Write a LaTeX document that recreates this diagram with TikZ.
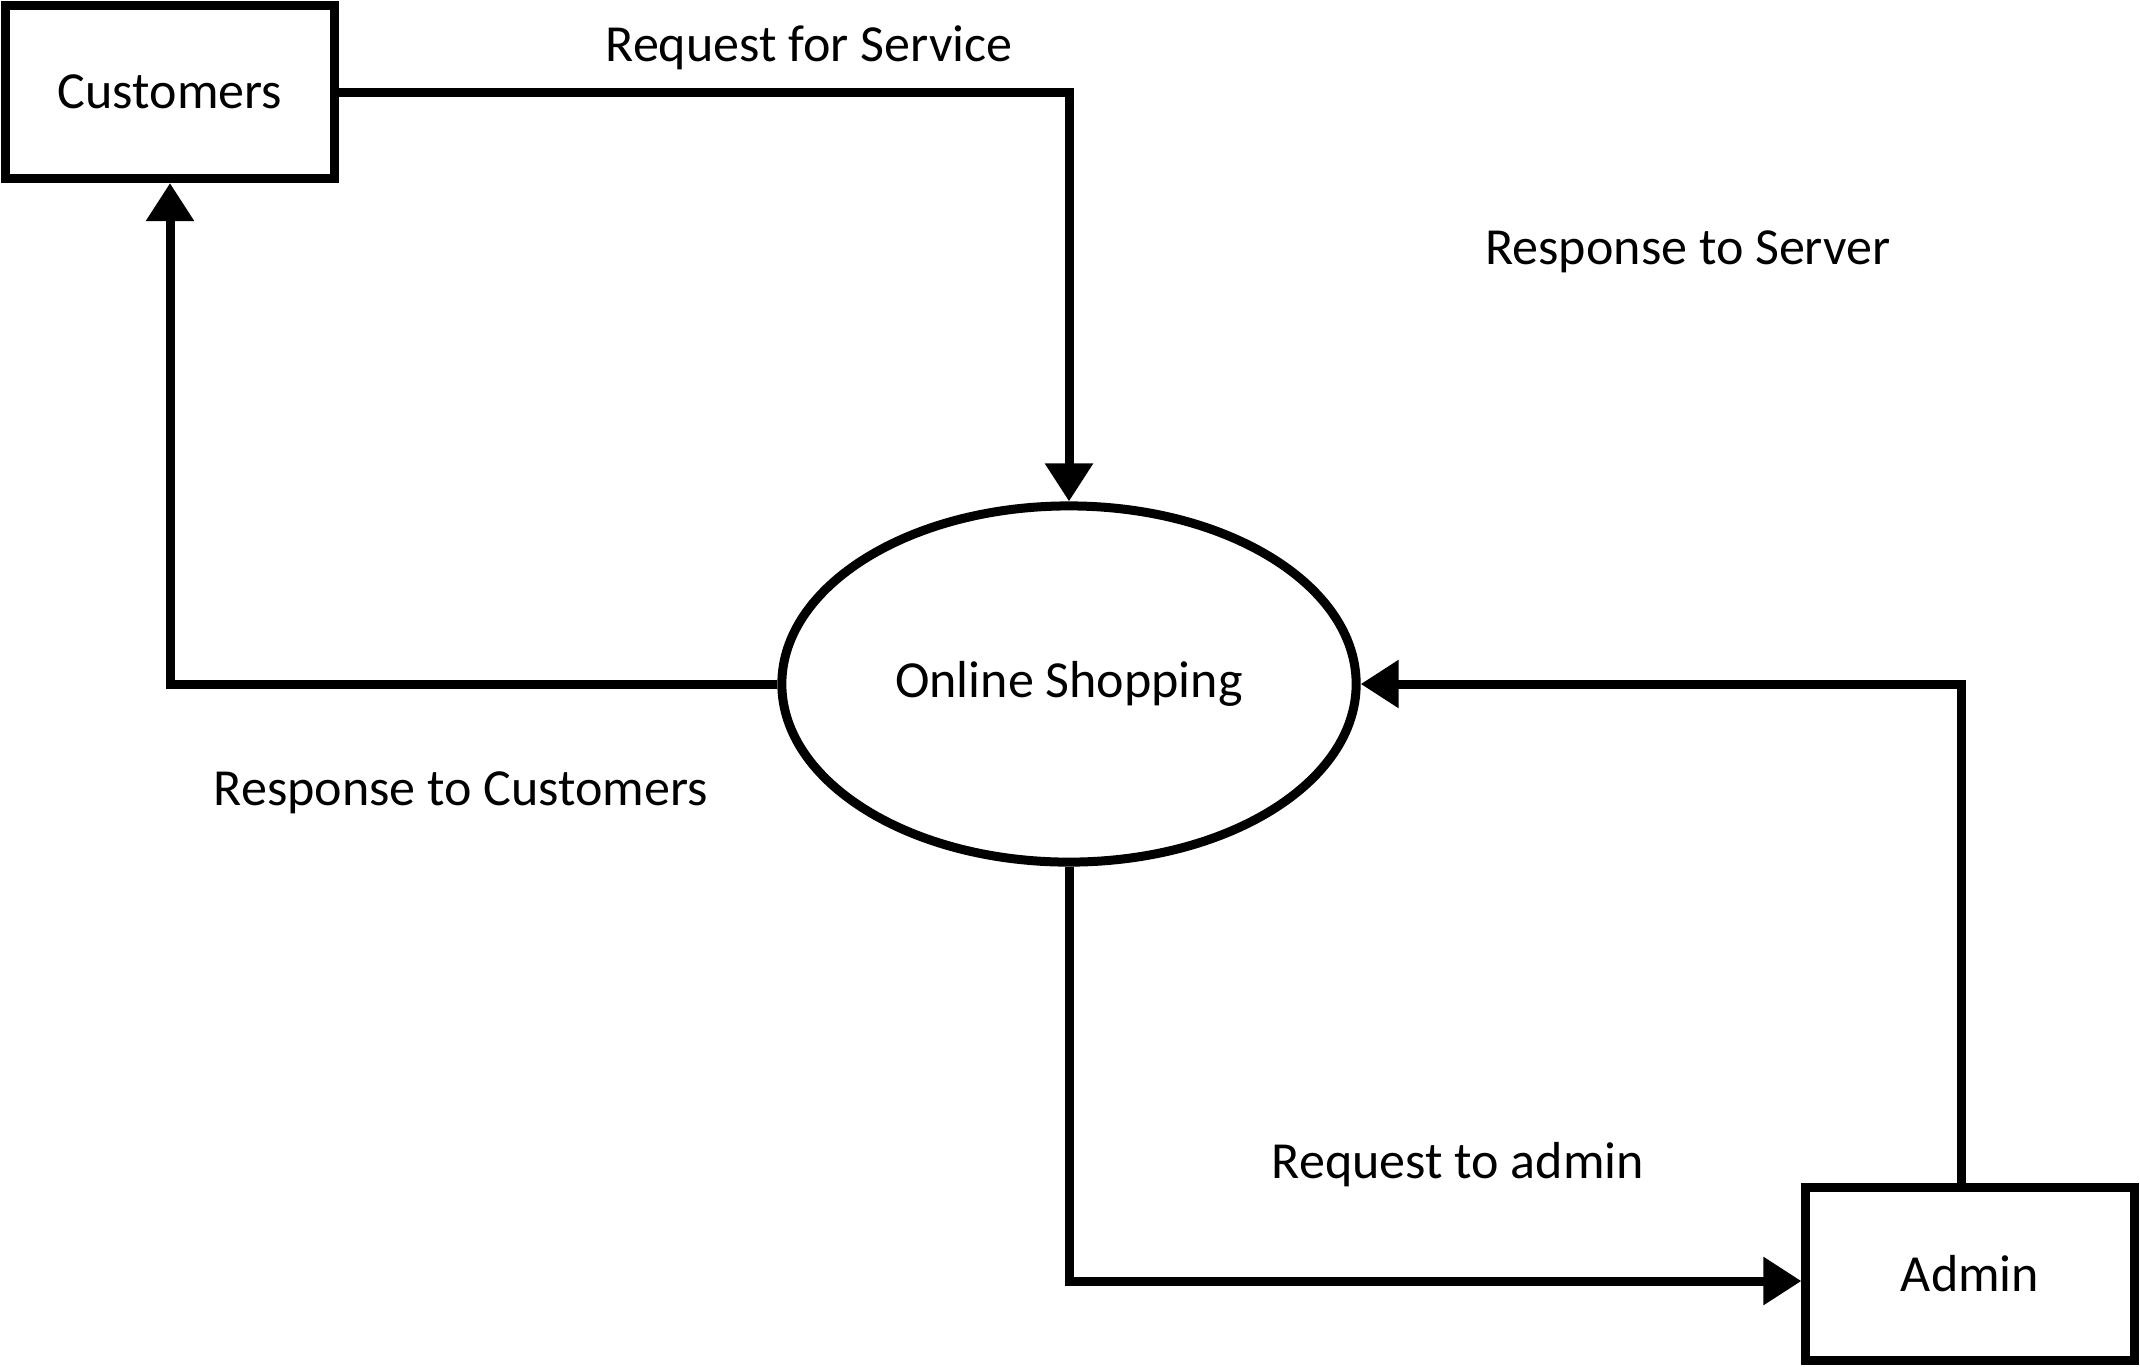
\documentclass[tikz,border=0pt]{standalone}
\usepackage{fontspec}
\setmainfont{Carlito}
\usetikzlibrary{arrows.meta,shapes.geometric}
\begin{document}
\begin{tikzpicture}[x=0.01cm,y=-0.01cm,
    font=\fontsize{14.8}{18}\selectfont,
    every path/.style={line width=0.09cm},
    entity/.style = {draw, rectangle, line width=0.09cm, inner sep=0pt},
    process/.style = {draw, ellipse, line width=0.09cm, inner sep=0pt, minimum width=5.74cm, minimum height=3.56cm},
    flow/.style = {-{Triangle[length=0.38cm,width=0.46cm]}, line width=0.09cm},
    lbl/.style = {inner sep=0pt}]
    \useasboundingbox (0,0) rectangle (2140,1366);
    \node[entity, minimum width=3.29cm, minimum height=1.73cm] (cust) at (170,92) {Customers};
    \node[process] (shop) at (1069,684) {Online Shopping};
    \node[entity, minimum width=3.28cm, minimum height=1.72cm] (admin) at (1970,1274) {Admin};
    \node[lbl] (l1) at (809,48) {Request for Service};
    \node[lbl] (l2) at (1688,252) {Response to Server};
    \node[lbl] (l3) at (461,793) {Response to Customers};
    \node[lbl] (l4) at (1458,1165) {Request to admin};
    \draw[flow] (cust.east) -| (shop.north);
    \draw[flow] (shop.west) -| (cust.south);
    \draw[flow] (shop.south) |- ([yshift=-0.07cm]admin.west);
    \draw[flow] ([xshift=-0.09cm]admin.north) |- (shop.east);
    %\draw[flow] (admin.north) -- (shop.east);
\end{tikzpicture}
\end{document}
